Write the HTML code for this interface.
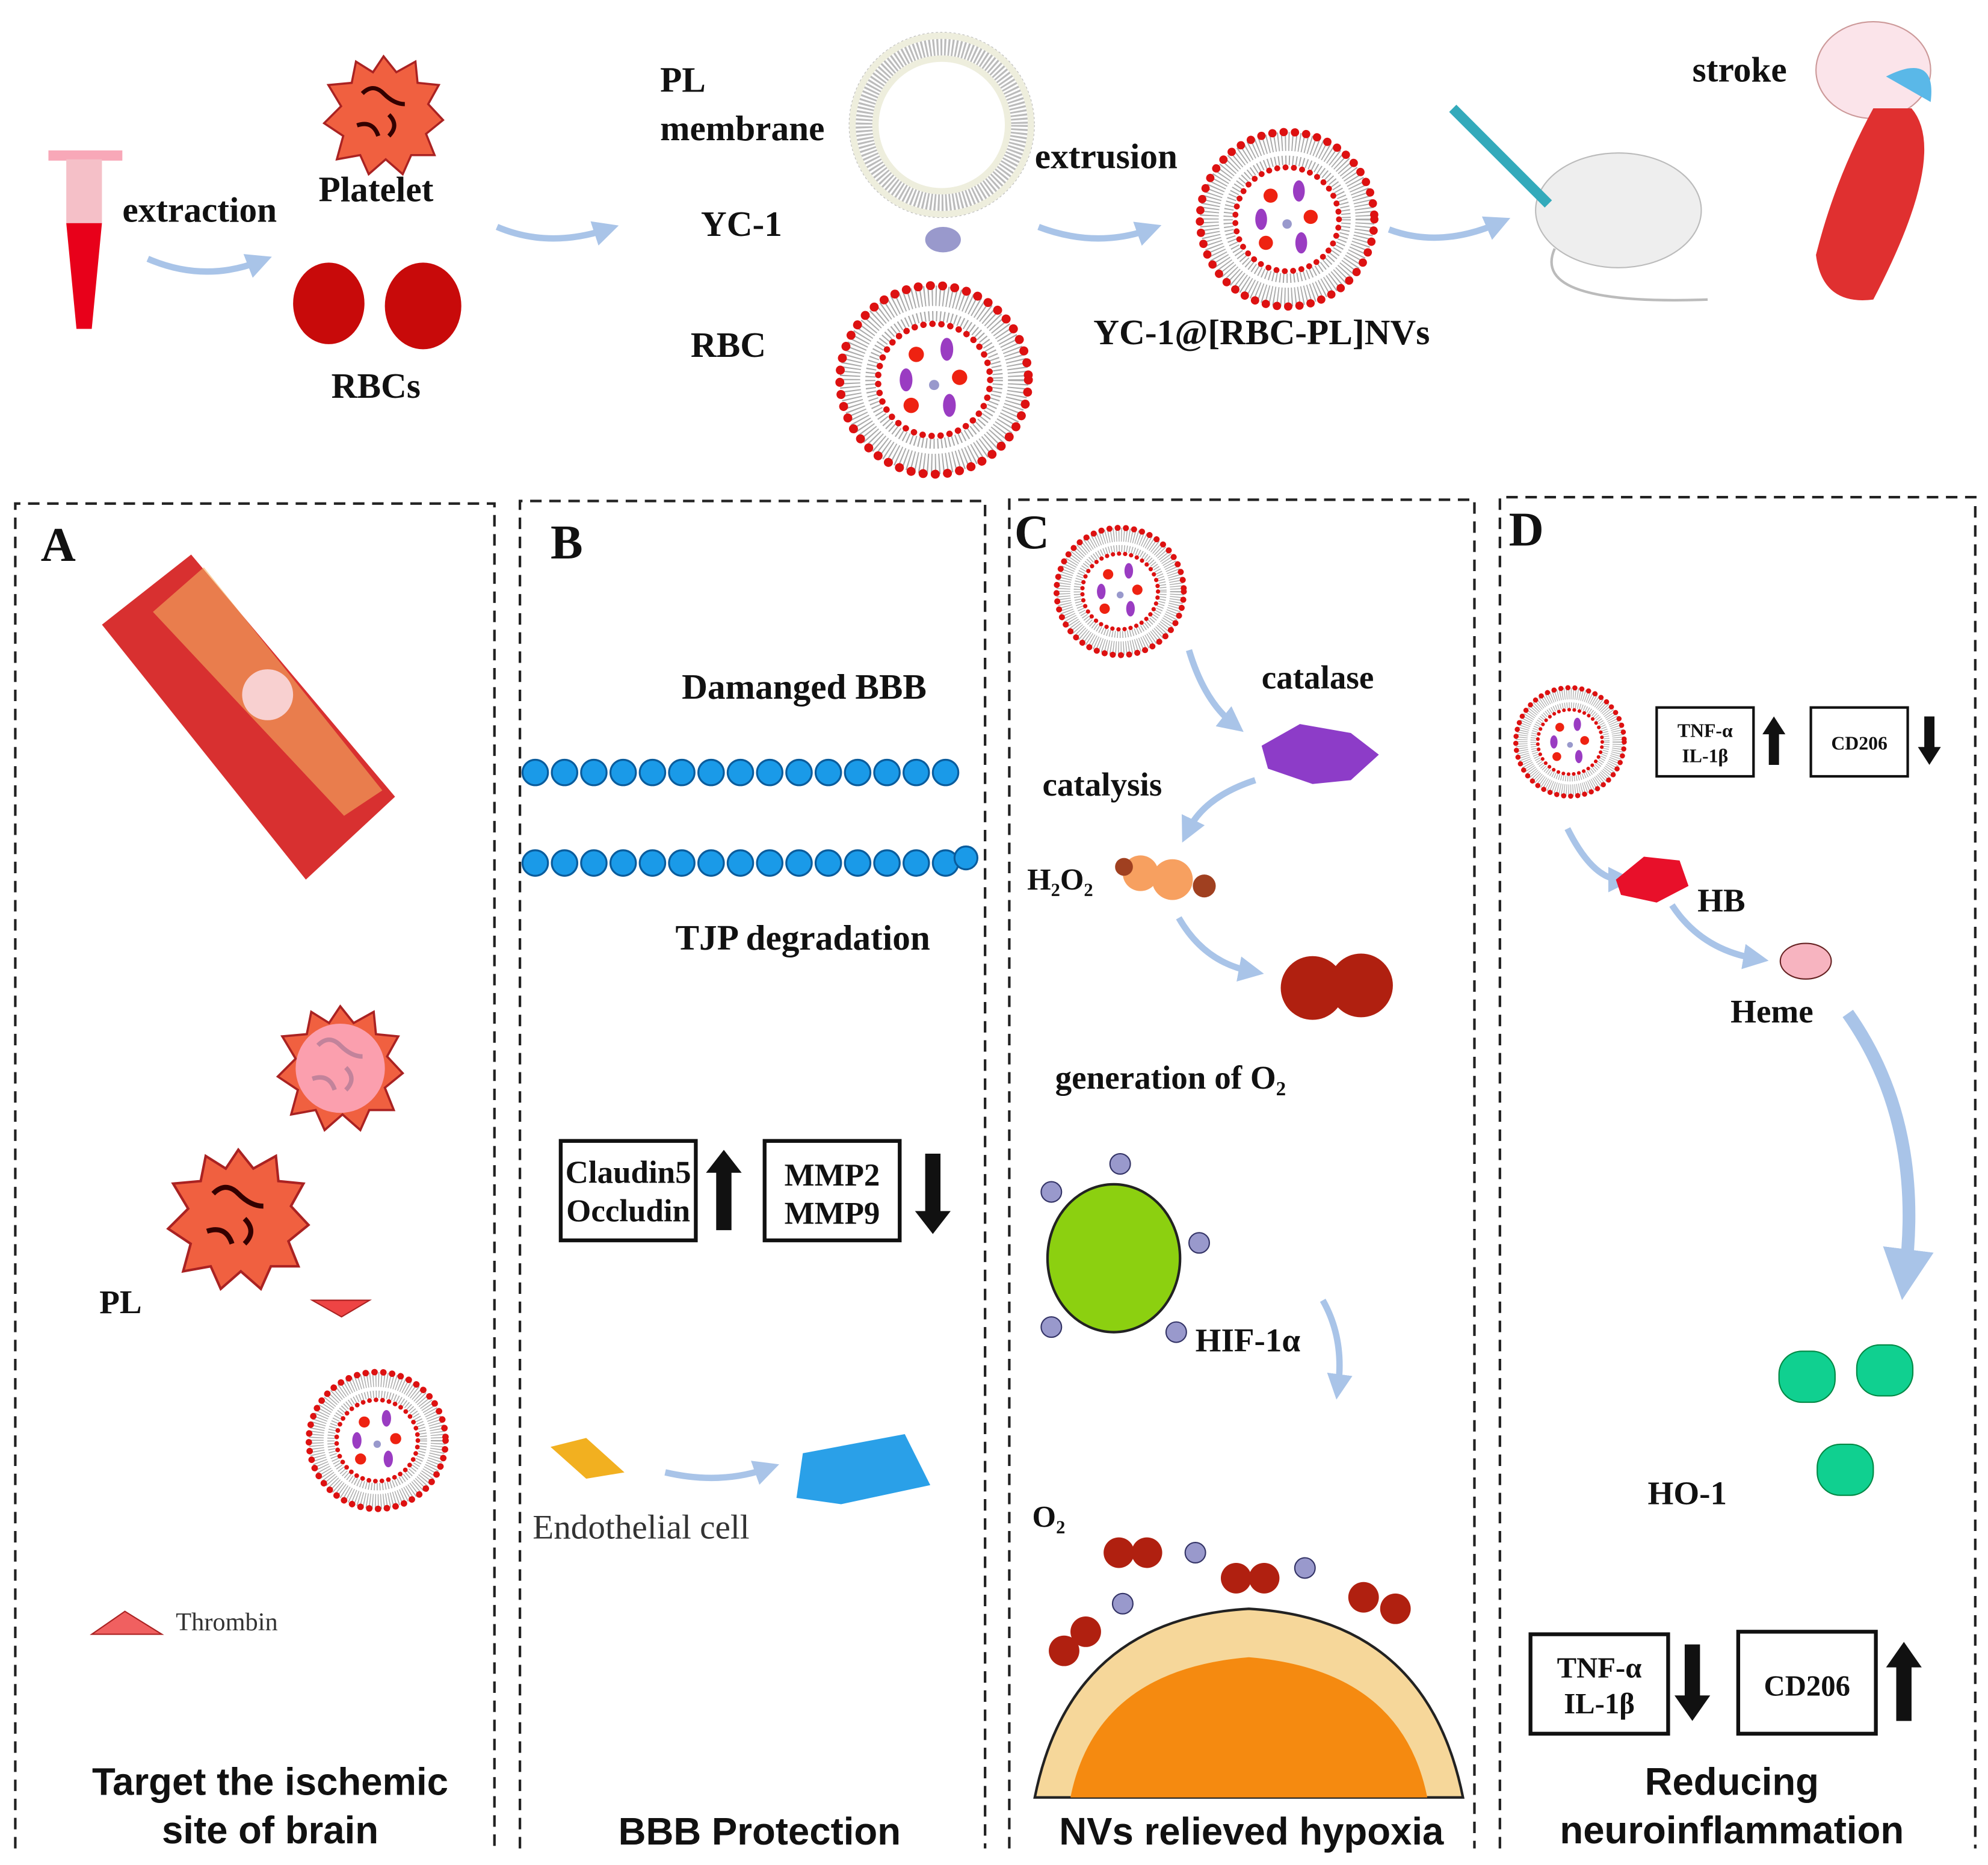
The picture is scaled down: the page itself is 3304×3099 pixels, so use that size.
<!DOCTYPE html>
<html><head><meta charset="utf-8"><style>
html,body{margin:0;padding:0;background:#fff}
svg{display:block}
.t{font-family:"Liberation Serif",serif;font-weight:bold;fill:#111}
.s{font-family:"Liberation Sans",sans-serif;font-weight:bold;fill:#111}
</style></head><body>
<svg width="3304" height="3099" viewBox="0 0 1560 1463" preserveAspectRatio="none" xmlns="http://www.w3.org/2000/svg">
<defs>
<marker id="ah" markerWidth="4" markerHeight="4" refX="2" refY="2" orient="auto"><path d="M0,0 L4,2 L0,4 Z" fill="#a9c4e8"/></marker>
<symbol id="ves" viewBox="-80 -80 160 160">
<circle r="76" fill="#fff"/>
<circle r="66" fill="none" stroke="#aaa" stroke-width="16" stroke-dasharray="1 2"/>
<circle r="74" fill="none" stroke="#d11" stroke-width="7" stroke-dasharray="0.1 9.5" stroke-linecap="round"/>
<circle r="50" fill="none" stroke="#aaa" stroke-width="8" stroke-dasharray="1 2"/>
<circle r="44" fill="none" stroke="#d11" stroke-width="5" stroke-dasharray="0.1 7" stroke-linecap="round"/>
<g fill="#e21"><circle cx="-14" cy="-20" r="6"/><circle cx="20" cy="-2" r="6"/><circle cx="-18" cy="20" r="6"/></g>
<g fill="#9a3cc2"><ellipse cx="10" cy="-24" rx="5" ry="9"/><ellipse cx="-22" cy="0" rx="5" ry="9"/><ellipse cx="12" cy="20" rx="5" ry="9"/></g>
<circle cx="0" cy="4" r="4" fill="#99c"/>
</symbol>
<symbol id="plt" viewBox="-60 -60 120 120">
<path d="M0,-55 L12,-40 L30,-50 L32,-30 L52,-28 L42,-10 L56,5 L40,18 L48,38 L26,38 L18,56 L2,42 L-14,56 L-22,38 L-44,42 L-38,20 L-56,8 L-40,-8 L-52,-28 L-30,-30 L-26,-50 L-10,-40 Z" fill="#f06040" stroke="#a22" stroke-width="2"/>
<path d="M-20,-20 q10,-10 20,0 t20,10 M-25,10 q15,-5 20,10 M5,0 q10,10 0,20" stroke="#300" stroke-width="4" fill="none"/>
</symbol>
</defs>
<g fill="none" stroke="#a9c4e8" stroke-width="5" marker-end="url(#ah)">
<path d="M116,203 Q160,222 204,205"/>
<path d="M390,178 Q430,195 476,180"/>
<path d="M815,178 Q860,195 902,180"/>
<path d="M1090,180 Q1130,195 1176,175"/>
<path d="M933,510 Q945,550 968,568"/>
<path d="M985,612 Q945,625 932,652"/>
<path d="M925,720 Q945,755 982,762"/>
<path d="M1038,1020 Q1055,1050 1050,1088"/>
<path d="M522,1155 Q565,1165 602,1152"/>
<path d="M1230,650 Q1250,690 1272,690"/>
<path d="M1312,710 Q1335,745 1378,752"/>
<path d="M1450,795 Q1510,880 1495,1000" stroke-width="10"/>
</g>
<!-- tube -->
<rect x="38" y="118" width="58" height="8" fill="#f8a8b8"/><rect x="52" y="125" width="28" height="50" fill="#f5c0c8"/>
<path d="M52,175 L80,175 L72,258 L60,258 Z" fill="#e8001a"/>
<use href="#plt" x="248" y="40" width="106" height="100"/>
<ellipse cx="258" cy="238" rx="28" ry="32" fill="#c80a0a"/><ellipse cx="332" cy="240" rx="30" ry="34" fill="#c80a0a"/>
<!-- PL membrane -->
<circle cx="739" cy="98" r="62" fill="none" stroke="#bbb" stroke-width="22" stroke-dasharray="1.5 1.5"/>
<circle cx="739" cy="98" r="70" fill="none" stroke="#eed" stroke-width="5"/>
<circle cx="739" cy="98" r="52" fill="none" stroke="#eed" stroke-width="5"/>
<ellipse cx="740" cy="188" rx="14" ry="10" fill="#99c"/>
<use href="#ves" x="653" y="218" width="160" height="160"/>
<use href="#ves" x="936" y="98" width="148" height="148"/>
<!-- mouse -->
<ellipse cx="1270" cy="165" rx="65" ry="45" fill="#eee" stroke="#bbb"/>
<path d="M1220,195 Q1200,240 1340,235" stroke="#bbb" fill="none" stroke-width="2"/>
<path d="M1140,85 L1215,160" stroke="#3ab" stroke-width="8"/>
<!-- brain / vessel -->
<ellipse cx="1470" cy="55" rx="45" ry="38" fill="#fbe4ea" stroke="#c99"/>
<path d="M1480,60 Q1520,40 1515,80" fill="#5ab8e8"/>
<path d="M1470,85 L1500,85 Q1530,120 1470,235 Q1430,240 1425,200 Q1440,140 1470,85Z" fill="#e03030"/>
<text class="t" x="96" y="174" font-size="28">extraction</text>
<text class="t" x="250" y="158" font-size="28">Platelet</text>
<text class="t" x="260" y="312" font-size="28">RBCs</text>
<text class="t" x="518" y="72" font-size="28">PL</text>
<text class="t" x="518" y="110" font-size="28">membrane</text>
<text class="t" x="550" y="185" font-size="28">YC-1</text>
<text class="t" x="542" y="280" font-size="28">RBC</text>
<text class="t" x="812" y="132" font-size="28">extrusion</text>
<text class="t" x="858" y="270" font-size="28">YC-1@[RBC-PL]NVs</text>
<text class="t" x="1328" y="64" font-size="28">stroke</text>
<!-- panels -->
<g fill="none" stroke="#222" stroke-width="2" stroke-dasharray="9 6">
<path d="M12,1450 V395 H388 V1450"/>
<path d="M408,1450 V393 H773 V1450"/>
<path d="M792,1450 V392 H1157 V1450"/>
<path d="M1177,1450 V390 H1550 V1450"/>
</g>
<text class="t" x="32" y="440" font-size="38">A</text>
<text class="t" x="432" y="438" font-size="38">B</text>
<text class="t" x="796" y="430" font-size="38">C</text>
<text class="t" x="1184" y="428" font-size="38">D</text>
<!-- A -->
<path d="M80,490 L150,435 L310,625 L240,690 Z" fill="#d83030"/>
<path d="M120,480 L160,445 L300,620 L270,640Z" fill="#f5b060" opacity=".6"/>
<circle cx="210" cy="545" r="20" fill="#f8d0d0"/>
<use href="#plt" x="212" y="785" width="110" height="105"/>
<circle cx="267" cy="838" r="35" fill="#fbd" opacity=".7"/>
<use href="#plt" x="122" y="897" width="130" height="118"/>
<path d="M245,1020 L290,1020 L268,1033Z" fill="#e44" stroke="#a22"/>
<use href="#ves" x="238" y="1072" width="116" height="116"/>
<path d="M72,1282 L127,1282 L98,1264Z" fill="#f06060" stroke="#a22"/>
<text x="138" y="1279" font-family="Liberation Serif,serif" font-size="20" fill="#333">Thrombin</text>
<text class="t" x="78" y="1030" font-size="26">PL</text>
<text class="s" x="212" y="1408" font-size="30" text-anchor="middle">Target the ischemic</text>
<text class="s" x="212" y="1446" font-size="30" text-anchor="middle">site of brain</text>
<!-- B -->
<text class="t" x="535" y="548" font-size="28">Damanged BBB</text>
<g fill="#1a9ae8" stroke="#0a5c9c" stroke-width="1.5">
<circle cx="420" cy="606" r="10"/><circle cx="443" cy="606" r="10"/><circle cx="466" cy="606" r="10"/><circle cx="489" cy="606" r="10"/><circle cx="512" cy="606" r="10"/><circle cx="535" cy="606" r="10"/><circle cx="558" cy="606" r="10"/><circle cx="581" cy="606" r="10"/><circle cx="604" cy="606" r="10"/><circle cx="627" cy="606" r="10"/><circle cx="650" cy="606" r="10"/><circle cx="673" cy="606" r="10"/><circle cx="696" cy="606" r="10"/><circle cx="719" cy="606" r="10"/><circle cx="742" cy="606" r="10"/>
<circle cx="420" cy="677" r="10"/><circle cx="443" cy="677" r="10"/><circle cx="466" cy="677" r="10"/><circle cx="489" cy="677" r="10"/><circle cx="512" cy="677" r="10"/><circle cx="535" cy="677" r="10"/><circle cx="558" cy="677" r="10"/><circle cx="581" cy="677" r="10"/><circle cx="604" cy="677" r="10"/><circle cx="627" cy="677" r="10"/><circle cx="650" cy="677" r="10"/><circle cx="673" cy="677" r="10"/><circle cx="696" cy="677" r="10"/><circle cx="719" cy="677" r="10"/><circle cx="742" cy="677" r="10"/><circle cx="758" cy="673" r="9"/>
</g>
<text class="t" x="530" y="745" font-size="28">TJP degradation</text>
<rect x="440" y="895" width="106" height="78" fill="none" stroke="#111" stroke-width="3"/>
<text class="t" x="493" y="928" font-size="25" text-anchor="middle">Claudin5</text>
<text class="t" x="493" y="958" font-size="25" text-anchor="middle">Occludin</text>
<path d="M562,965 V920 H554 L568,902 L582,920 H574 V965Z" fill="#111"/>
<rect x="600" y="895" width="106" height="78" fill="none" stroke="#111" stroke-width="3"/>
<text class="t" x="653" y="930" font-size="25" text-anchor="middle">MMP2</text>
<text class="t" x="653" y="960" font-size="25" text-anchor="middle">MMP9</text>
<path d="M726,905 V950 H718 L732,968 L746,950 H738 V905Z" fill="#111"/>
<path d="M432,1135 L460,1128 L490,1155 L460,1160Z" fill="#f2b020"/>
<path d="M630,1140 L710,1125 L730,1165 L660,1180 L625,1175Z" fill="#2aa0e8"/>
<text x="418" y="1207" font-family="Liberation Serif,serif" font-size="27" fill="#333">Endothelial cell</text>
<text class="s" x="596" y="1447" font-size="30" text-anchor="middle">BBB Protection</text>
<!-- C -->
<use href="#ves" x="825" y="410" width="108" height="108"/>
<text class="t" x="990" y="540" font-size="26">catalase</text>
<path d="M990,585 L1020,568 L1060,575 L1082,592 L1060,612 L1030,615 L995,603Z" fill="#8d3cc8"/>
<text class="t" x="818" y="624" font-size="26">catalysis</text>
<text class="t" x="806" y="698" font-size="24">H₂O₂</text>
<circle cx="895" cy="685" r="14" fill="#f7a060"/><circle cx="920" cy="690" r="16" fill="#f7a060"/><circle cx="945" cy="695" r="9" fill="#a04020"/><circle cx="882" cy="680" r="7" fill="#a04020"/>
<circle cx="1030" cy="775" r="25" fill="#b02010"/><circle cx="1068" cy="773" r="25" fill="#b02010"/>
<text class="t" x="828" y="854" font-size="26">generation of O₂</text>
<ellipse cx="874" cy="987" rx="52" ry="58" fill="#8cd010" stroke="#222" stroke-width="2"/>
<g fill="#9999cc" stroke="#336" stroke-width="1"><circle cx="879" cy="913" r="8"/><circle cx="825" cy="935" r="8"/><circle cx="941" cy="975" r="8"/><circle cx="825" cy="1041" r="8"/><circle cx="923" cy="1045" r="8"/><circle cx="938" cy="1218" r="8"/><circle cx="1024" cy="1230" r="8"/><circle cx="881" cy="1258" r="8"/></g>
<text class="t" x="938" y="1060" font-size="26">HIF-1α</text>
<text class="t" x="810" y="1198" font-size="24">O₂</text>
<g fill="#b02010"><circle cx="878" cy="1218" r="12"/><circle cx="900" cy="1218" r="12"/><circle cx="970" cy="1238" r="12"/><circle cx="992" cy="1238" r="12"/><circle cx="1070" cy="1253" r="12"/><circle cx="1095" cy="1262" r="12"/><circle cx="835" cy="1295" r="12"/><circle cx="852" cy="1280" r="12"/></g>
<path d="M812,1410 Q840,1270 980,1262 Q1120,1270 1148,1410Z" fill="#f6d79a" stroke="#222" stroke-width="2"/>
<path d="M840,1410 Q860,1310 980,1300 Q1100,1310 1120,1410Z" fill="#f58a10"/>
<text class="s" x="982" y="1447" font-size="30" text-anchor="middle">NVs relieved hypoxia</text>
<!-- D -->
<use href="#ves" x="1186" y="536" width="92" height="92"/>
<rect x="1300" y="555" width="76" height="54" fill="none" stroke="#111" stroke-width="2"/>
<text class="t" x="1338" y="578" font-size="15" text-anchor="middle">TNF-α</text>
<text class="t" x="1338" y="598" font-size="15" text-anchor="middle">IL-1β</text>
<path d="M1388,600 V576 H1383 L1392,562 L1401,576 H1396 V600Z" fill="#111"/>
<rect x="1421" y="555" width="76" height="54" fill="none" stroke="#111" stroke-width="2"/>
<text class="t" x="1459" y="588" font-size="15" text-anchor="middle">CD206</text>
<path d="M1510,562 V586 H1505 L1514,600 L1523,586 H1518 V562Z" fill="#111"/>
<path d="M1268,690 L1290,672 L1318,675 L1325,695 L1300,708 L1272,702Z" fill="#e8102a"/>
<text class="t" x="1332" y="715" font-size="26">HB</text>
<ellipse cx="1417" cy="754" rx="20" ry="14" fill="#f7b4c0" stroke="#622"/>
<text class="t" x="1358" y="802" font-size="26">Heme</text>
<g fill="#10d090" stroke="#084" stroke-width="1"><rect x="1396" y="1060" width="44" height="40" rx="18"/><rect x="1457" y="1055" width="44" height="40" rx="18"/><rect x="1426" y="1133" width="44" height="40" rx="18"/></g>
<text class="t" x="1293" y="1180" font-size="26">HO-1</text>
<rect x="1201" y="1282" width="108" height="78" fill="none" stroke="#111" stroke-width="3"/>
<text class="t" x="1255" y="1316" font-size="23" text-anchor="middle">TNF-α</text>
<text class="t" x="1255" y="1344" font-size="23" text-anchor="middle">IL-1β</text>
<path d="M1322,1290 V1330 H1314 L1328,1350 L1342,1330 H1334 V1290Z" fill="#111"/>
<rect x="1364" y="1280" width="108" height="80" fill="none" stroke="#111" stroke-width="3"/>
<text class="t" x="1418" y="1330" font-size="23" text-anchor="middle">CD206</text>
<path d="M1488,1350 V1308 H1480 L1494,1288 L1508,1308 H1500 V1350Z" fill="#111"/>
<text class="s" x="1359" y="1408" font-size="30" text-anchor="middle">Reducing</text>
<text class="s" x="1359" y="1446" font-size="30" text-anchor="middle">neuroinflammation</text>
</svg>
</body></html>
